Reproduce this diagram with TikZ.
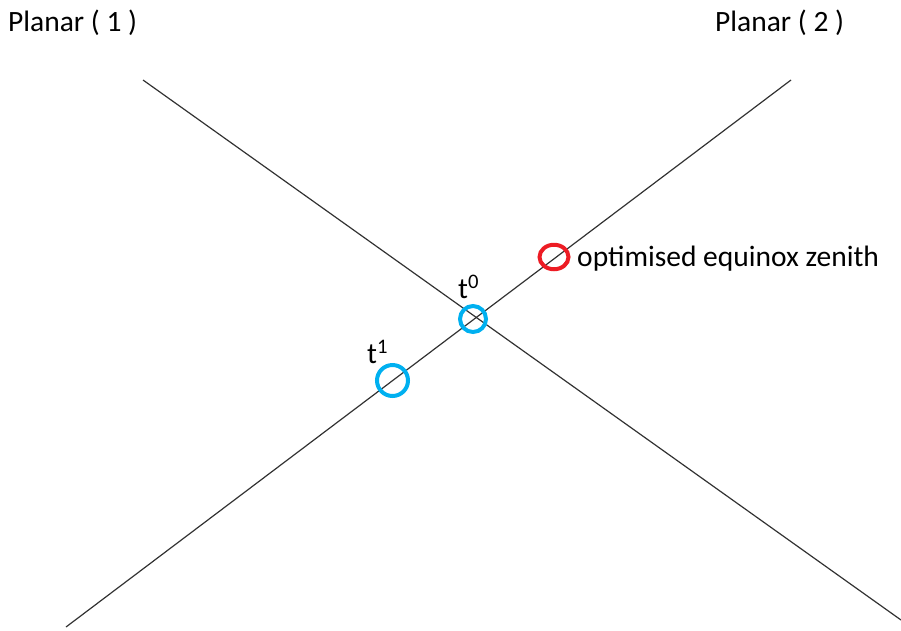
\documentclass[tikz,border=0pt]{standalone}
\usepackage{fontspec}
\setmainfont{Carlito}
\usetikzlibrary{shapes.geometric}
\definecolor{ringblue}{RGB}{0,176,240}
\definecolor{ringred}{RGB}{237,28,36}
\definecolor{linegray}{RGB}{50,50,50}
\tikzset{
  axisline/.style={draw=linegray, line width=1.2pt},
  bluering/.style={circle, draw=ringblue, line width=4pt, inner sep=0pt},
  redring/.style={ellipse, draw=ringred, line width=4pt, inner sep=0pt, minimum width=29pt, minimum height=24.5pt},
  lbl/.style={inner sep=0pt, anchor=base west, font=\fontsize{29.5}{34}\selectfont},
}
\begin{document}
\begin{tikzpicture}[x=1pt,y=-1pt]
\useasboundingbox (0,0) rectangle (901,630);
\coordinate (a1) at (143,80);
\coordinate (a2) at (901,620);
\coordinate (b1) at (66,627);
\coordinate (b2) at (791,80);
\draw[axisline] (a1) -- (a2);
\draw[axisline] (b1) -- (b2);
\node[bluering, minimum size=26pt] (t0) at (473,319) {};
\node[bluering, minimum size=31pt] (t1) at (392.5,380.5) {};
\node[redring] (opt) at (554,257) {};
\node[lbl] (t0l) at (458,298) {t\textsuperscript{0}};
\node[lbl] (t1l) at (367,363) {t\textsuperscript{1}};
\node[lbl] (optl) at (577,266) {optimised equinox zenith};
\node[lbl] (p1) at (8,31) {Planar ( 1 )};
\node[lbl] (p2) at (715,31) {Planar ( 2 )};
\end{tikzpicture}
\end{document}
